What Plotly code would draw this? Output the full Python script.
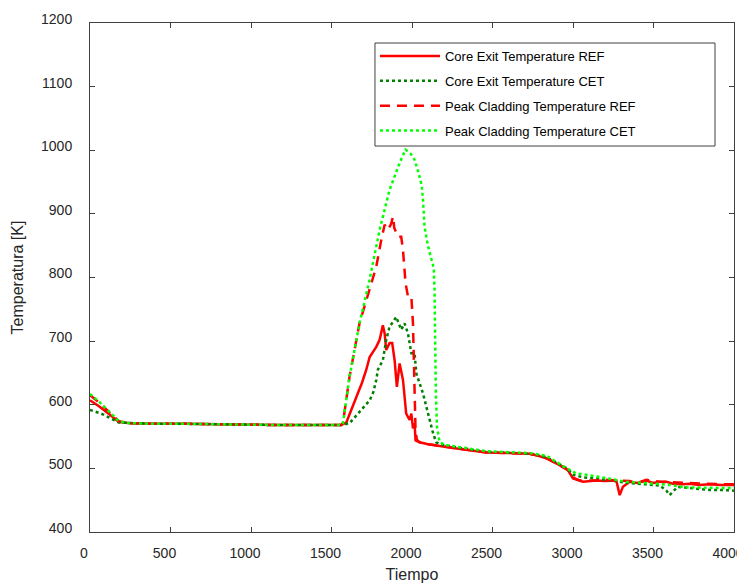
import plotly.graph_objects as go

# ---- data ----
t_cet_ref = [0, 60, 120, 180, 250, 400, 600, 800, 1000, 1200, 1400, 1560, 1592, 1620, 1654, 1690, 1716,
             1737, 1760, 1778, 1799, 1812, 1819, 1830, 1840, 1861, 1877, 1892, 1906, 1923, 1944, 1964,
             1985, 1996, 2006, 2016, 2022, 2047, 2100, 2254, 2461, 2600, 2731, 2780, 2834, 2917, 2969,
             3000, 3030, 3062, 3145, 3200, 3269, 3280, 3290, 3310, 3352, 3400, 3456, 3497, 3540, 3580,
             3621, 3680, 3725, 3780, 3849, 3920, 4000]
T_cet_ref = [607, 597, 585, 573, 571, 570, 570, 569, 569, 568, 568, 568, 572, 590, 612, 635, 655,
             675, 684, 691, 702, 715, 725, 712, 686, 697, 697, 670, 628, 665, 639, 586,
             576, 586, 563, 571, 544, 541, 538, 532, 525, 524, 523, 520, 516, 505, 497,
             484, 481, 479, 481, 480, 481, 470, 458, 471, 479, 477, 481, 477, 479, 479,
             476, 475, 476, 474, 475, 474, 474]

t_cet_cet = [0, 80, 180, 250, 400, 600, 800, 1000, 1200, 1400, 1560, 1612, 1660, 1716, 1737, 1760,
             1778, 1788, 1799, 1819, 1840, 1861, 1882, 1902, 1933, 1954, 1975, 1996, 2016, 2027,
             2047, 2068, 2089, 2109, 2130, 2150, 2200, 2461, 2731, 2834, 2917, 2969, 3000, 3062,
             3145, 3250, 3350, 3450, 3540, 3580, 3600, 3650, 3750, 3850, 3930, 4000]
T_cet_cet = [592, 585, 572, 571, 570, 570, 569, 569, 568, 568, 568, 571, 585, 602, 607, 620,
             639, 655, 660, 670, 702, 723, 730, 738, 718, 728, 712, 681, 681, 649,
             634, 618, 597, 576, 556, 541, 536, 526, 523, 518, 507, 499, 490, 486,
             484, 480, 477, 475, 473, 465, 458, 471, 468, 466, 466, 465]

t_pct_ref = [0, 60, 120, 180, 250, 400, 600, 800, 1000, 1200, 1400, 1560, 1571, 1612, 1674, 1737,
             1778, 1809, 1830, 1850, 1870, 1882, 1890, 1913, 1933, 1944, 1960, 1975, 1996, 2006,
             2016, 2022, 2030, 2047, 2100, 2254, 2461, 2600, 2731, 2780, 2834, 2917, 2969, 3000,
             3030, 3062, 3145, 3200, 3269, 3352, 3400, 3456, 3540, 3621, 3725, 3849, 3920, 4000]
T_pct_ref = [615, 603, 588, 574, 571, 570, 570, 569, 569, 568, 568, 568, 571, 644, 728, 780,
             817, 859, 883, 875, 884, 896, 878, 864, 864, 843, 791, 770, 770, 728,
             640, 560, 545, 541, 538, 532, 525, 524, 523, 520, 516, 505, 497, 486,
             482, 480, 481, 482, 481, 480, 477, 482, 479, 478, 477, 476, 475, 475]

t_pct_cet = [0, 60, 120, 180, 250, 400, 600, 800, 1000, 1200, 1400, 1560, 1571, 1612, 1674, 1736,
             1799, 1861, 1923, 1960, 1990, 2016, 2040, 2060, 2068, 2078, 2099, 2120, 2135, 2140,
             2143, 2148, 2155, 2171, 2200, 2461, 2731, 2834, 2948, 3000, 3020, 3062, 3145, 3331,
             3497, 3600, 3704, 3850, 4000]
T_pct_cet = [617, 604, 589, 574, 571, 570, 570, 569, 569, 568, 568, 568, 571, 644, 728, 796,
             875, 938, 980, 1001, 995, 985, 965, 945, 922, 880, 850, 830, 815, 780,
             700, 620, 565, 542, 537, 527, 524, 520, 502, 495, 492, 491, 487, 479,
             476, 474, 470, 469, 469]

x_ticks = [0, 500, 1000, 1500, 2000, 2500, 3000, 3500, 4000]
y_ticks = [400, 500, 600, 700, 800, 900, 1000, 1100, 1200]

FONT = "Liberation Sans, Arial, sans-serif"

fig = go.Figure()
fig.add_trace(go.Scatter(x=t_cet_ref, y=T_cet_ref, mode="lines", name="Core Exit Temperature REF",
                         legendgroup="a", line=dict(color="#ff0000", width=2.5)))
fig.add_trace(go.Scatter(x=t_cet_cet, y=T_cet_cet, mode="lines", name="Core Exit Temperature CET",
                         legendgroup="b", line=dict(color="#007f00", width=2.5, dash="3px,3px")))
fig.add_trace(go.Scatter(x=t_pct_ref, y=T_pct_ref, mode="lines", name="Peak Cladding Temperature REF",
                         legendgroup="c", line=dict(color="#ff0000", width=2.5, dash="10px,7px")))
fig.add_trace(go.Scatter(x=t_pct_cet, y=T_pct_cet, mode="lines", name="Peak Cladding Temperature CET",
                         legendgroup="d", line=dict(color="#00ff00", width=2.5, dash="3px,3px")))

axis_common = dict(showline=True, linecolor="#404040", linewidth=1, mirror="ticks",
                   ticks="inside", ticklen=5, tickcolor="#404040", showgrid=False, zeroline=False,
                   automargin=False, ticklabeloverflow="allow",
                   tickfont=dict(family=FONT, size=14, color="#262626"))

# The page body has an 8px default margin, so margins are offset by that amount.
fig.update_layout(
    width=745, height=577,
    margin=dict(l=82, r=19, t=15, b=53),
    plot_bgcolor="white", paper_bgcolor="white",
    font=dict(family=FONT, size=14, color="#262626"),
    xaxis=dict(range=[0, 4000], tickvals=x_ticks, ticktext=[str(v) for v in x_ticks],
               ticklabelstandoff=8, ticklabelshift=-6,
               title=dict(text="Tiempo", font=dict(family=FONT, size=16, color="#262626"), standoff=9),
               **axis_common),
    yaxis=dict(range=[400, 1200], tickvals=y_ticks, ticktext=[str(v) for v in y_ticks],
               ticklabelstandoff=14, ticklabelshift=-4,
               title=dict(text="Temperatura [K]", font=dict(family=FONT, size=16, color="#262626"), standoff=13),
               **axis_common),
    legend=dict(x=0.4425, y=0.9647, xanchor="left", yanchor="top",
                bgcolor="rgba(0,0,0,0)", borderwidth=0,
                font=dict(family=FONT, size=13, color="#000000"),
                tracegroupgap=5, itemwidth=60),
    showlegend=True,
    shapes=[dict(type="rect", xref="paper", yref="paper", x0=0.4425, x1=0.9705, y0=0.7583, y1=0.9607,
                 line=dict(color="#404040", width=1), fillcolor="white", layer="above")],
)

fig.write_html("out.html")
